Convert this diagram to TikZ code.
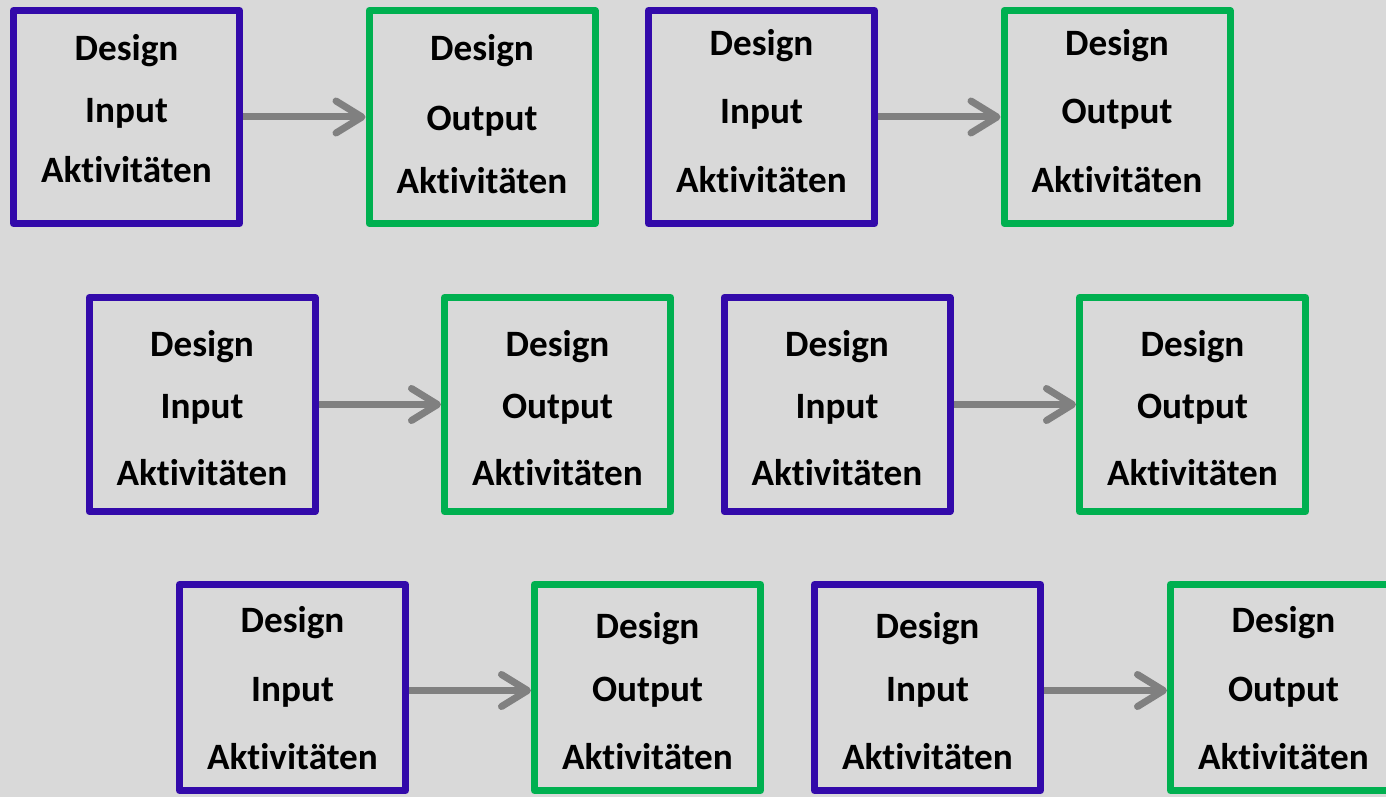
\documentclass[tikz,border=0pt]{standalone}
\usepackage{fontspec}
\setmainfont{Carlito}[Ligatures=NoCommon]
\usetikzlibrary{arrows.meta}

\definecolor{bggray}{RGB}{217,217,217}
\definecolor{inpurple}{RGB}{51,10,170}
\definecolor{outgreen}{RGB}{0,176,80}
\definecolor{arrowgray}{RGB}{128,128,128}

\tikzset{
  panel/.style={draw, line width=3.5pt, line join=round, inner sep=0pt,
    minimum width=113pt, fill=none},
  inbox/.style={panel, draw=inpurple},
  outbox/.style={panel, draw=outgreen},
  lbl/.style={anchor=base, inner sep=0pt, text=black,
    font=\fontsize{18.6}{22}\selectfont\bfseries},
  flow/.style={draw=arrowgray, line width=3.5pt,
    -{Straight Barb[length=13pt 0, width=16pt 0, round]}},
}

% #1 name, #2 centre x, #3 centre y, #4 style, #5 height,
% #6 second word, #7-#9 baselines of the three lines
\newcommand\panelbox[9]{%
  \node[#4, minimum height=#5] (#1) at (#2,#3) {};
  \node[lbl] (#1-a) at (#2,#7) {Design};
  \node[lbl] (#1-b) at (#2,#8) {#6};
  \node[lbl] (#1-c) at (#2,#9) {Aktivitäten};
}

\begin{document}
\begin{tikzpicture}[x=0.5pt, y=-0.5pt]
  \useasboundingbox (0,0) rectangle (1386,797);
  \clip (0,0) rectangle (1386,797);
  \fill[bggray] (0,0) rectangle (1386,797);

  % first row
  \panelbox{r1i1}{126.5}{117}{inbox}{106.5pt}{Input}{61}{123}{183}
  \panelbox{r1o1}{482}{117}{outbox}{106.5pt}{Output}{61}{131}{193}
  \panelbox{r1i2}{761.5}{117}{inbox}{106.5pt}{Input}{56}{124}{192}
  \panelbox{r1o2}{1117}{117}{outbox}{106.5pt}{Output}{56}{124}{192}

  % second row
  \panelbox{r2i1}{202}{404.5}{inbox}{107pt}{Input}{356}{418}{485}
  \panelbox{r2o1}{557.5}{404.5}{outbox}{107pt}{Output}{356}{418}{485}
  \panelbox{r2i2}{837}{404.5}{inbox}{107pt}{Input}{356}{418}{485}
  \panelbox{r2o2}{1192.5}{404.5}{outbox}{107pt}{Output}{356}{418}{485}

  % third row
  \panelbox{r3i1}{292.5}{687.5}{inbox}{103pt}{Input}{632}{701}{769}
  \panelbox{r3o1}{647.5}{687.5}{outbox}{103pt}{Output}{638}{701}{769}
  \panelbox{r3i2}{927.5}{687.5}{inbox}{103pt}{Input}{638}{701}{769}
  \panelbox{r3o2}{1283.5}{687.5}{outbox}{103pt}{Output}{632}{701}{769}

  % connectors
  \draw[flow] (r1i1.east) -- (r1o1.west);
  \draw[flow] (r1i2.east) -- (r1o2.west);
  \draw[flow] (r2i1.east) -- (r2o1.west);
  \draw[flow] (r2i2.east) -- (r2o2.west);
  \draw[flow] ([yshift=-1.5pt]r3i1.east) -- ([yshift=-1.5pt]r3o1.west);
  \draw[flow] ([yshift=-1.5pt]r3i2.east) -- ([yshift=-1.5pt]r3o2.west);
\end{tikzpicture}
\end{document}
